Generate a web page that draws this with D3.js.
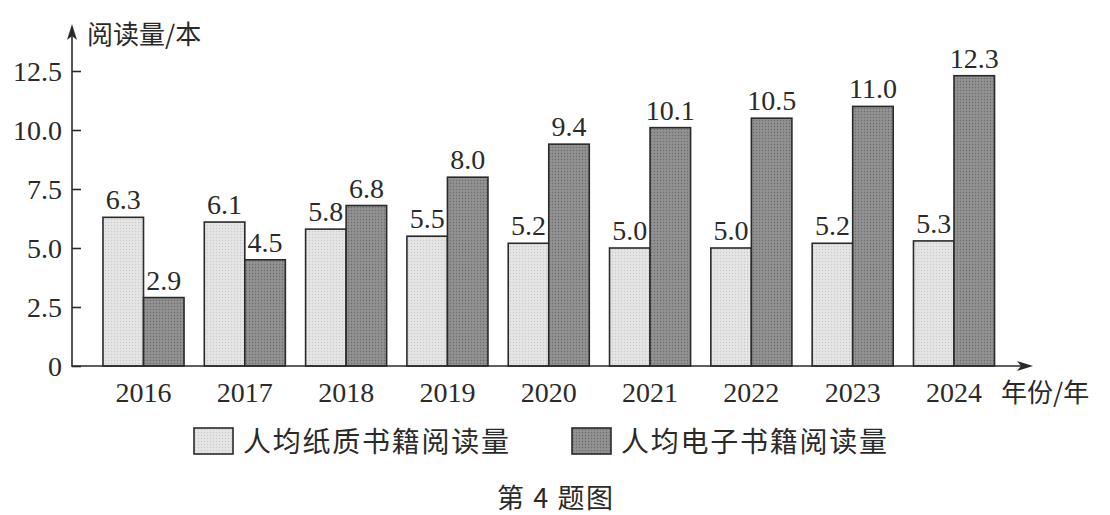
<!DOCTYPE html>
<html><head><meta charset="utf-8">
<script src="https://cdn.jsdelivr.net/npm/d3@7/dist/d3.min.js"></script>
<style>
html,body{margin:0;padding:0;background:#fff;}
svg text{fill:#2a2a2a;}
</style></head>
<body>
<svg id="c" width="1110" height="515"></svg>
<script>
const years = ["2016","2017","2018","2019","2020","2021","2022","2023","2024"];
const paperValues = [6.3, 6.1, 5.8, 5.5, 5.2, 5.0, 5.0, 5.2, 5.3];
const ebookValues = [2.9, 4.5, 6.8, 8.0, 9.4, 10.1, 10.5, 11.0, 12.3];
const yTicks = [0, 2.5, 5.0, 7.5, 10.0, 12.5];
const seriesNames = ["人均纸质书籍阅读量", "人均电子书籍阅读量"];
const yTitle = "阅读量/本";
const xTitle = "年份/年";
const caption = "第 4 题图";

const latin = "'Liberation Serif','Times New Roman',serif";
const cjk = "'Noto Sans CJK SC','Noto Sans CJK JP',sans-serif";
const ink = "#2a2a2a";
const fills = ["#e2e2e2", "#8c8c8c"];

const svg = d3.select("#c");
const defs = svg.append("defs");
fills.forEach((f, i) => {
  const p = defs.append("pattern").attr("id", "pat" + i)
    .attr("width", 3).attr("height", 3).attr("patternUnits", "userSpaceOnUse");
  p.append("rect").attr("width", 3).attr("height", 3).attr("fill", f);
  p.append("rect").attr("x", 0).attr("y", 0).attr("width", 1).attr("height", 1)
    .attr("fill", i === 0 ? "#c8c8c8" : "#6c6c6c");
  p.append("rect").attr("x", 1.5).attr("y", 1.5).attr("width", 1).attr("height", 1)
    .attr("fill", i === 0 ? "#f0f0f0" : "#a3a3a3");
});

const x0 = 72, yBase = 366;
const y = d3.scaleLinear().domain([0, 12.5]).range([yBase, 71]);
const x = d3.scaleBand().domain(years).range([92.85, 1004.65]).paddingInner(0.2).paddingOuter(0.1);
const xs = d3.scaleBand().domain([0, 1]).range([0, x.bandwidth()]);

const series = [paperValues, ebookValues];
series.forEach((vals, si) => {
  const g = svg.append("g");
  g.selectAll("rect").data(vals).join("rect")
    .attr("x", (d, i) => x(years[i]) + xs(si))
    .attr("y", d => y(d))
    .attr("width", xs.bandwidth())
    .attr("height", d => yBase - y(d))
    .attr("fill", "url(#pat" + si + ")")
    .attr("stroke", ink).attr("stroke-width", 1.6);
  g.selectAll("text").data(vals).join("text")
    .attr("x", (d, i) => x(years[i]) + xs(si) + xs.bandwidth() / 2)
    .attr("y", d => y(d) - 8)
    .attr("text-anchor", "middle")
    .attr("font-family", latin).attr("font-size", 28)
    .text(d => d.toFixed(1));
});

const yAxis = d3.axisRight(y).tickValues(yTicks).tickSize(9)
  .tickFormat(d => d === 0 ? "0" : d.toFixed(1));
const ya = svg.append("g").attr("transform", `translate(${x0},0)`).call(yAxis);
ya.select(".domain").remove();
ya.selectAll(".tick line").attr("stroke", ink).attr("stroke-width", 1.6);
ya.selectAll(".tick text").attr("x", -10).attr("text-anchor", "end")
  .attr("font-family", latin).attr("font-size", 28).attr("fill", ink).attr("dy", "0.34em");

svg.append("line").attr("x1", x0).attr("x2", x0).attr("y1", yBase + 1).attr("y2", 30)
  .attr("stroke", ink).attr("stroke-width", 1.6);
svg.append("path").attr("d", `M${x0},24 L${x0 - 5},40 L${x0},36 L${x0 + 5},40 Z`).attr("fill", ink);

const xAxis = d3.axisBottom(x).tickSize(0).tickPadding(0);
const xa = svg.append("g").attr("transform", `translate(0,${yBase})`).call(xAxis);
xa.select(".domain").remove();
xa.selectAll(".tick text").attr("y", 36).attr("dy", 0)
  .attr("font-family", latin).attr("font-size", 28).attr("fill", ink);

svg.append("line").attr("x1", x0).attr("x2", 1026).attr("y1", yBase).attr("y2", yBase)
  .attr("stroke", ink).attr("stroke-width", 1.6);
svg.append("path").attr("d", `M1033,${yBase} L1017,${yBase - 5} L1021,${yBase} L1017,${yBase + 5} Z`).attr("fill", ink);

svg.append("text").attr("x", 87).attr("y", 44).attr("font-family", cjk).attr("font-size", 26)
  .text(yTitle);
svg.append("text").attr("x", 1001).attr("y", 402).attr("font-family", cjk).attr("font-size", 26)
  .text(xTitle);

const legX = [194, 572];
seriesNames.forEach((n, i) => {
  svg.append("rect").attr("x", legX[i]).attr("y", 428).attr("width", 39).attr("height", 26)
    .attr("fill", "url(#pat" + i + ")").attr("stroke", ink).attr("stroke-width", 1.6);
  svg.append("text").attr("x", legX[i] + 49).attr("y", 452)
    .attr("font-family", cjk).attr("font-size", 28)
    .attr("textLength", 266).attr("lengthAdjust", "spacing")
    .text(n);
});

svg.append("text").attr("x", 555).attr("y", 508).attr("text-anchor", "middle")
  .attr("font-family", cjk).attr("font-size", 27)
  .attr("textLength", 116).attr("lengthAdjust", "spacing").text(caption);
</script>
</body></html>
